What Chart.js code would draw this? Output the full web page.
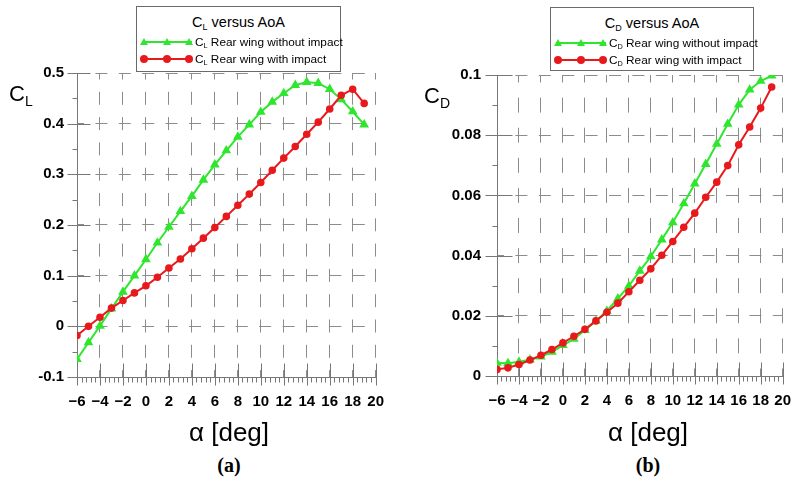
<!DOCTYPE html>
<html>
<head>
<meta charset="utf-8">
<script src="https://cdn.jsdelivr.net/npm/chart.js"></script>
<style>
  body { margin: 0; background: #fff; width: 807px; height: 485px; position: relative; overflow: hidden;
         font-family: "Liberation Sans", Arial, sans-serif; color: #000; }
  canvas { position: absolute; top: 0; }
  .legend { position: absolute; background: #fff; border: 1px solid #6a6a6a; box-sizing: border-box; }
  .legend .ttl { position: absolute; left: 0; right: 0; top: 6px; text-align: center; font-size: 14.5px; line-height: 18px; }
  .legend .row { position: absolute; left: 2px; height: 14px; font-size: 11.8px; line-height: 14px; white-space: nowrap; }
  .legend .row svg { position: absolute; left: 0; top: 0; }
  .legend .row span.t { position: absolute; left: 56px; top: 0; }
  .s { font-size: 0.62em; position: relative; top: 0.3em; }
  .abs { position: absolute; white-space: nowrap; }
  .ytitle { font-size: 22px; line-height: 26px; }
  .ytitle .s { font-size: 14px; top: 5px; }
  .xtitle { font-size: 26px; line-height: 30px; text-align: center; width: 200px; }
  .cap { font-family: "Liberation Serif", "Times New Roman", serif; font-weight: bold; font-size: 20px; text-align: center; width: 100px; }
</style>
</head>
<body>
<canvas id="cl" width="400" height="420" style="left:0"></canvas>
<canvas id="cd" width="407" height="420" style="left:400px"></canvas>

<div class="legend" style="left:136px;top:6px;width:205px;height:66px">
  <div class="ttl">C<span class="s">L</span> versus AoA</div>
  <div class="row" style="top:28px">
    <svg width="56" height="14"><line x1="3" y1="7" x2="53" y2="7" stroke="#2ee62e" stroke-width="2"/>
      <polygon points="5,3 9,10 1,10" fill="#2ee62e"/><polygon points="28,3 32,10 24,10" fill="#2ee62e"/><polygon points="50,3 54,10 46,10" fill="#2ee62e"/></svg>
    <span class="t">C<span class="s">L</span> Rear wing without impact</span>
  </div>
  <div class="row" style="top:45px">
    <svg width="56" height="14"><line x1="3" y1="7" x2="53" y2="7" stroke="#e8191c" stroke-width="2"/>
      <circle cx="5" cy="7" r="4" fill="#e8191c"/><circle cx="28" cy="7" r="4" fill="#e8191c"/><circle cx="50" cy="7" r="4" fill="#e8191c"/></svg>
    <span class="t">C<span class="s">L</span> Rear wing with impact</span>
  </div>
</div>

<div class="legend" style="left:550px;top:7px;width:204px;height:64px">
  <div class="ttl">C<span class="s">D</span> versus AoA</div>
  <div class="row" style="top:28px">
    <svg width="56" height="14"><line x1="3" y1="7" x2="53" y2="7" stroke="#2ee62e" stroke-width="2"/>
      <polygon points="5,3 9,10 1,10" fill="#2ee62e"/><polygon points="28,3 32,10 24,10" fill="#2ee62e"/><polygon points="50,3 54,10 46,10" fill="#2ee62e"/></svg>
    <span class="t">C<span class="s">D</span> Rear wing without impact</span>
  </div>
  <div class="row" style="top:45px">
    <svg width="56" height="14"><line x1="3" y1="7" x2="53" y2="7" stroke="#e8191c" stroke-width="2"/>
      <circle cx="5" cy="7" r="4" fill="#e8191c"/><circle cx="28" cy="7" r="4" fill="#e8191c"/><circle cx="50" cy="7" r="4" fill="#e8191c"/></svg>
    <span class="t">C<span class="s">D</span> Rear wing with impact</span>
  </div>
</div>

<div class="abs ytitle" style="left:9px;top:81px">C<span class="s">L</span></div>
<div class="abs ytitle" style="left:424px;top:83px">C<span class="s">D</span></div>
<div class="abs xtitle" style="left:129px;top:417px">&alpha; [deg]</div>
<div class="abs xtitle" style="left:548px;top:417px">&alpha; [deg]</div>
<div class="abs cap" style="left:179px;top:454px">(a)</div>
<div class="abs cap" style="left:598px;top:454px">(b)</div>

<script>
// angle of attack, deg
const aoa = [-6, -5, -4, -3, -2, -1, 0, 1, 2, 3, 4, 5, 6, 7, 8, 9, 10, 11, 12, 13, 14, 15, 16, 17, 18, 19];

// lift coefficient
const clWithout = [-0.065, -0.032, 0.001, 0.035, 0.068, 0.100, 0.132, 0.165, 0.196, 0.227, 0.257, 0.289, 0.319,
                   0.347, 0.374, 0.398, 0.423, 0.443, 0.460, 0.476, 0.482, 0.480, 0.468, 0.448, 0.424, 0.398];
const clWith = [-0.018, 0.000, 0.018, 0.036, 0.051, 0.066, 0.080, 0.097, 0.115, 0.133, 0.153, 0.174, 0.195,
                0.217, 0.239, 0.261, 0.284, 0.308, 0.332, 0.355, 0.379, 0.403, 0.429, 0.456, 0.468, 0.440];

// drag coefficient
const cdWithout = [0.0043, 0.0042, 0.0047, 0.0054, 0.0064, 0.0080, 0.0102, 0.0123, 0.0152, 0.0183, 0.0216, 0.0257, 0.0299,
                   0.0349, 0.0397, 0.0453, 0.0510, 0.0573, 0.0639, 0.0704, 0.0771, 0.0837, 0.0901, 0.0951, 0.0980, 0.0998];
const cdWith = [0.0022, 0.0027, 0.0038, 0.0053, 0.0069, 0.0088, 0.0110, 0.0132, 0.0155, 0.0183, 0.0212, 0.0242, 0.0280,
                0.0318, 0.0356, 0.0401, 0.0447, 0.0494, 0.0541, 0.0594, 0.0644, 0.0699, 0.0768, 0.0827, 0.0890, 0.0960];

// tick labels
const xTicks = [-6, -4, -2, 0, 2, 4, 6, 8, 10, 12, 14, 16, 18, 20];
const clTicks = [-0.1, 0, 0.1, 0.2, 0.3, 0.4, 0.5];
const cdTicks = [0, 0.02, 0.04, 0.06, 0.08, 0.1];

const GREEN = '#2ee62e';
const RED = '#e8191c';
const AXIS = '#777';
const GRID = '#8c8c8c';

// crossing major ticks and small minor ticks, Tecplot style
const tickMarks = {
  id: 'tickMarks',
  beforeDatasetsDraw(chart, args, o) {
    const { ctx, scales: { x, y } } = chart;
    ctx.save();
    ctx.strokeStyle = AXIS;
    ctx.lineWidth = 1;
    ctx.beginPath();
    const yb = Math.round(y.bottom) + 0.5;
    const xl = Math.round(x.left) + 0.5;
    x.ticks.forEach(t => {
      const px = Math.round(x.getPixelForValue(t.value)) + 0.5;
      ctx.moveTo(px, yb - o.xIn); ctx.lineTo(px, yb + o.xOut);
    });
    let n = Math.round((x.max - x.min) / o.xMinor);
    for (let i = 0; i <= n; i++) {
      const px = Math.round(x.getPixelForValue(x.min + i * o.xMinor)) + 0.5;
      ctx.moveTo(px, yb); ctx.lineTo(px, yb + 5);
    }
    y.ticks.forEach(t => {
      const py = Math.round(y.getPixelForValue(t.value)) + 0.5;
      ctx.moveTo(xl - o.yOut, py); ctx.lineTo(xl + o.yIn, py);
    });
    n = Math.round((y.max - y.min) / o.yMinor);
    for (let i = 0; i <= n; i++) {
      const py = Math.round(y.getPixelForValue(y.min + i * o.yMinor)) + 0.5;
      ctx.moveTo(xl - 5, py); ctx.lineTo(xl, py);
    }
    ctx.stroke();
    ctx.restore();
  }
};

function makeChart(id, without, withImp, yTicks, yMin, yMax, pad, yWidth, xHeight, ticksOpt, vDash, yPad) {
  new Chart(document.getElementById(id), {
    type: 'line',
    data: {
      datasets: [
        {
          data: aoa.map((a, i) => ({ x: a, y: without[i] })),
          borderColor: GREEN, backgroundColor: GREEN, borderWidth: 2,
          pointStyle: 'triangle', pointRadius: 3.6, order: 1
        },
        {
          data: aoa.map((a, i) => ({ x: a, y: withImp[i] })),
          borderColor: RED, backgroundColor: RED, borderWidth: 2,
          pointStyle: 'circle', pointRadius: 2.8, order: 0
        }
      ]
    },
    options: {
      responsive: false,
      animation: false,
      devicePixelRatio: 1,
      layout: { padding: pad },
      plugins: { legend: { display: false }, tooltip: { enabled: false }, tickMarks: ticksOpt },
      scales: {
        x: {
          type: 'linear', min: -6, max: 20,
          afterBuildTicks: s => { s.ticks = xTicks.map(v => ({ value: v })); },
          afterFit: s => { s.height = xHeight; },
          ticks: {
            padding: 16, color: '#000', maxRotation: 0,
            font: { family: '"Liberation Sans", Arial, sans-serif', size: 15, weight: 'bold' },
            callback: v => (v < 0 ? '\u2212' + Math.abs(v) : String(v))
          },
          grid: { color: GRID, lineWidth: 1, drawTicks: false },
          border: { color: AXIS, width: 1, dash: vDash, dashOffset: vDash[0] / 2 }
        },
        y: {
          type: 'linear', min: yMin, max: yMax,
          afterBuildTicks: s => { s.ticks = yTicks.map(v => ({ value: v })); },
          afterFit: s => { s.width = yWidth; },
          ticks: {
            padding: yPad, color: '#000',
            font: { family: '"Liberation Sans", Arial, sans-serif', size: 15, weight: 'bold' },
            callback: v => String(v)
          },
          grid: { color: GRID, lineWidth: 1, drawTicks: false },
          border: { color: AXIS, width: 1, dash: [12, 11.4], dashOffset: 6 }
        }
      }
    },
    plugins: [tickMarks]
  });
}

makeChart('cl', clWithout, clWith, clTicks, -0.1, 0.5,
  { left: 0, top: 73, right: 19, bottom: 0 }, 77, 43,
  { xIn: 14, xOut: 8, xMinor: 0.4, yIn: 13, yOut: 10, yMinor: 0.05 }, [13, 12.3], 13);

makeChart('cd', cdWithout, cdWith, cdTicks, 0, 0.1,
  { left: 0, top: 75, right: 8, bottom: 0 }, 97, 44,
  { xIn: 14, xOut: 8, xMinor: 0.4, yIn: 15, yOut: 12, yMinor: 0.01 }, [15, 15.1], 16);
</script>
</body>
</html>
